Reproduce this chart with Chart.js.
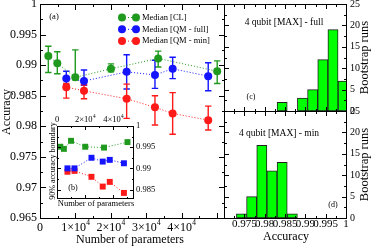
<!DOCTYPE html>
<html><head><meta charset="utf-8">
<script src="https://cdn.jsdelivr.net/npm/chart.js@4.4.1/dist/chart.umd.min.js"></script>
<style>
html,body{margin:0;padding:0;background:#fff;}
#wrap{position:relative;width:374px;height:248px;overflow:hidden;background:#fff;}
#wrap canvas{position:absolute;left:0;top:0;}
</style></head><body>
<div id="wrap">
<canvas id="cA" width="374" height="248"></canvas>
<canvas id="cB" width="374" height="248"></canvas>
<canvas id="cC" width="374" height="248"></canvas>
<canvas id="cD" width="374" height="248"></canvas>
</div>
<script>
// ---------- data ----------
const seriesNames = ['Median [CL]', 'Median [QM - full]', 'Median [QM - min]'];
const paramsCL = [2350, 4890, 9970, 20060, 33400, 50080];
const paramsQM = [7430, 12430, 24490, 32490, 37490, 47540];
const medCL    = [0.9915, 0.9903, 0.9880, 0.9894, 0.9911, 0.9890];
const loCL     = [0.9888, 0.9886, 0.9876, 0.9889, 0.9897, 0.9870];
const hiCL     = [0.9931, 0.9922, 0.9925, 0.9902, 0.9923, 0.9907];
const medFull  = [0.9878, 0.9874, 0.9889, 0.9884, 0.9894, 0.9882];
const loFull   = [0.9868, 0.9867, 0.9861, 0.9862, 0.9878, 0.9858];
const hiFull   = [0.9890, 0.9892, 0.9917, 0.9908, 0.9913, 0.9904];
const medMin   = [0.9864, 0.9858, 0.9845, 0.9831, 0.9821, 0.9810];
const loMin    = [0.9846, 0.9845, 0.9813, 0.9802, 0.9787, 0.9794];
const hiMin    = [0.9870, 0.9868, 0.9869, 0.9850, 0.9855, 0.9833];
// inset (b): 90% accuracy boundary
const b90CL    = [0.9951, 0.9946, 0.9965, 0.9951, 0.9949, 0.9962];
const b90Full  = [0.9900, 0.9900, 0.9925, 0.9916, 0.9920, 0.9912];
const b90Min   = [0.9892, 0.9894, 0.9880, 0.9857, 0.9868, 0.9842];
// histograms (c), (d)
const binCenters = [0.9743, 0.9768, 0.9793, 0.9818, 0.9843, 0.9868, 0.9893, 0.9918, 0.9943, 0.9968, 0.9993];
const runsFull   = [0, 0, 0, 0, 2, 0, 3, 5, 12, 19, 7];
const runsMin    = [1, 5, 17, 11, 13, 1, 0, 0, 0, 0, 0];
// ticks
const yTicksA   = [0.965, 0.97, 0.975, 0.98, 0.985, 0.99, 0.995, 1];
const yLabelsA  = ['0.965', '0.97', '0.975', '0.98', '0.985', '0.99', '0.995', '1'];
const xTicksA   = [0, 10000, 20000, 30000, 40000, 50000];
const xLabelsA  = ['0', '1×10^4', '2×10^4', '3×10^4', '4×10^4', ''];
const xTicksB   = [0, 20000, 40000];
const xLabelsB  = ['0', '2×10^4', '4×10^4'];
const yTicksB   = [0.985, 0.99, 0.995, 1];
const yLabelsB  = ['0.985', '0.99', '0.995', '1'];
const xTicksH   = [0.97, 0.975, 0.98, 0.985, 0.99, 0.995, 1];
const xLabelsH  = ['', '0.975', '0.98', '0.985', '0.99', '0.995', '1'];
const yTicksH   = [0, 5, 10, 15, 20, 25];
const yLabelsH  = ['0', '5', '10', '15', '20', '25'];

const C_CL = '#1f9a1f', C_FULL = '#1414ff', C_MIN = '#ff1a1a';
const SERIF = '"Liberation Serif","Times New Roman","DejaVu Serif",serif';
function font(px){ return px + 'px ' + SERIF; }
function txt(ctx, s, x, y, px, align, rot){
  ctx.save(); ctx.font = font(px); ctx.fillStyle = '#000';
  ctx.textAlign = align || 'center'; ctx.textBaseline = 'middle';
  ctx.translate(x, y); if (rot) ctx.rotate(rot); ctx.fillText(s, 0, 0); ctx.restore();
}
function supTxt(ctx, s, x, y, px, align){
  const parts = s.split('^'); const b = parts[0], e = parts[1] || '';
  ctx.save(); ctx.fillStyle = '#000'; ctx.textBaseline = 'middle'; ctx.textAlign = 'left';
  ctx.font = font(px); const wb = ctx.measureText(b).width;
  ctx.font = font(px * 0.62); const we = e ? ctx.measureText(e).width : 0;
  let x0 = x;
  if (align === 'center') x0 = x - (wb + we) / 2;
  ctx.font = font(px); ctx.fillText(b, x0, y);
  if (e) { ctx.font = font(px * 0.62); ctx.fillText(e, x0 + wb + 0.3, y - px * 0.38); }
  ctx.restore();
}
function frame(ctx, a){
  ctx.save(); ctx.strokeStyle = '#000'; ctx.lineWidth = 1;
  ctx.strokeRect(a.left + 0.5, a.top + 0.5, a.right - a.left, a.bottom - a.top); ctx.restore();
}
function rng(a, b, s){ const r = []; for (let v = a; v <= b + s * 1e-6; v += s) r.push(+v.toFixed(8)); return r; }
function yTicksDraw(ctx, sc, a, vals, len){
  ctx.save(); ctx.strokeStyle = '#000'; ctx.lineWidth = 1; ctx.beginPath();
  vals.forEach(v => { const p = Math.round(sc.getPixelForValue(v)) + 0.5;
    if (p < a.top - 1 || p > a.bottom + 1) return;
    ctx.moveTo(a.left, p); ctx.lineTo(a.left + len, p);
    ctx.moveTo(a.right + 1, p); ctx.lineTo(a.right + 1 - len, p); });
  ctx.stroke(); ctx.restore();
}
function xTicksDraw(ctx, sc, a, vals, len){
  ctx.save(); ctx.strokeStyle = '#000'; ctx.lineWidth = 1; ctx.beginPath();
  vals.forEach(v => { const p = Math.round(sc.getPixelForValue(v)) + 0.5;
    if (p < a.left - 1 || p > a.right + 1) return;
    ctx.moveTo(p, a.bottom + 1); ctx.lineTo(p, a.bottom + 1 - len);
    ctx.moveTo(p, a.top); ctx.lineTo(p, a.top + len); });
  ctx.stroke(); ctx.restore();
}
function errBars(ctx, sx, sy, xs, lo, hi, col){
  ctx.save(); ctx.strokeStyle = col; ctx.lineWidth = 1.4; ctx.beginPath();
  xs.forEach((x, i) => { const px = sx.getPixelForValue(x);
    const p1 = sy.getPixelForValue(lo[i]), p2 = sy.getPixelForValue(hi[i]);
    ctx.moveTo(px, p1); ctx.lineTo(px, p2);
    ctx.moveTo(px - 3.2, p1); ctx.lineTo(px + 3.2, p1);
    ctx.moveTo(px - 3.2, p2); ctx.lineTo(px + 3.2, p2); });
  ctx.stroke(); ctx.restore();
}
const baseOpts = { responsive: false, animation: false, devicePixelRatio: 1, events: [],
  plugins: { legend: { display: false }, tooltip: { enabled: false } } };
function pts(xs, ys){ return xs.map((x, i) => ({ x: x, y: ys[i] })); }
function lineDs(xs, ys, col, style, r){
  return { data: pts(xs, ys), showLine: true, borderColor: col, backgroundColor: col,
    borderWidth: 1, borderDash: [1, 2], pointStyle: style, pointRadius: r,
    pointBorderWidth: 0, pointBackgroundColor: col };
}

// ---------- (a) main ----------
new Chart(document.getElementById('cA'), {
  type: 'scatter',
  data: { datasets: [
    lineDs(paramsCL, medCL, C_CL, 'circle', 4),
    lineDs(paramsQM, medFull, C_FULL, 'circle', 4),
    lineDs(paramsQM, medMin, C_MIN, 'circle', 4)
  ]},
  options: Object.assign({}, baseOpts, {
    layout: { padding: { left: 40, top: 4, right: 150, bottom: 30 } },
    scales: { x: { type: 'linear', display: false, min: 0, max: 52000 },
              y: { type: 'linear', display: false, min: 0.965, max: 1 } }
  }),
  plugins: [{ id: 'decoA',
    beforeDatasetsDraw(ch){ const c = ch.ctx, sx = ch.scales.x, sy = ch.scales.y;
      errBars(c, sx, sy, paramsCL, loCL, hiCL, C_CL);
      errBars(c, sx, sy, paramsQM, loFull, hiFull, C_FULL);
      errBars(c, sx, sy, paramsQM, loMin, hiMin, C_MIN); },
    afterDraw(ch){ const c = ch.ctx, a = ch.chartArea, sx = ch.scales.x, sy = ch.scales.y;
      frame(c, a);
      yTicksDraw(c, sy, a, yTicksA, 6); yTicksDraw(c, sy, a, rng(0.9675, 0.9975, 0.005), 3);
      xTicksDraw(c, sx, a, xTicksA, 6); xTicksDraw(c, sx, a, rng(5000, 45000, 10000), 3);
      yTicksA.forEach((v, i) => txt(c, yLabelsA[i], 37, sy.getPixelForValue(v), 12, 'right'));
      xTicksA.forEach((v, i) => { if (xLabelsA[i]) supTxt(c, xLabelsA[i], sx.getPixelForValue(v), 228, 12, 'center'); });
      txt(c, 'Accuracy', 7, 112, 12, 'center', -Math.PI / 2);
      txt(c, 'Number of parameters', 130, 240, 12, 'center');
      txt(c, '(a)', 54, 17, 8.5, 'center');
      // legend
      const cols = [C_CL, C_FULL, C_MIN];
      seriesNames.forEach((n, i) => { const y = 17.5 + i * 11.8;
        c.save(); c.strokeStyle = cols[i]; c.lineWidth = 1; c.setLineDash([1, 2]);
        c.beginPath(); c.moveTo(122, y); c.lineTo(136, y); c.stroke(); c.setLineDash([]);
        c.fillStyle = cols[i];
        [122, 136].forEach(px => { c.beginPath(); c.arc(px, y, 4, 0, Math.PI * 2); c.fill(); });
        c.restore();
        txt(c, n, 142, y, 8.5, 'left'); });
    } }]
});

// ---------- (b) inset ----------
new Chart(document.getElementById('cB'), {
  type: 'scatter',
  data: { datasets: [
    lineDs(paramsCL, b90CL, C_CL, 'rect', 4.2),
    lineDs(paramsQM, b90Full, C_FULL, 'rect', 4.2),
    lineDs(paramsQM, b90Min, C_MIN, 'rect', 4.2)
  ]},
  options: Object.assign({}, baseOpts, {
    layout: { padding: { left: 57, top: 126, right: 374 - 133, bottom: 248 - 198 } },
    scales: { x: { type: 'linear', display: false, min: 0, max: 54000 },
              y: { type: 'linear', display: false, min: 0.983, max: 1 } }
  }),
  plugins: [{ id: 'decoB',
    beforeDatasetsDraw(ch){ const c = ch.ctx, a = ch.chartArea;
      c.save(); c.fillStyle = '#fff'; c.fillRect(a.left, a.top, a.right - a.left, a.bottom - a.top); c.restore(); },
    afterDraw(ch){ const c = ch.ctx, a = ch.chartArea, sx = ch.scales.x, sy = ch.scales.y;
      frame(c, a);
      yTicksDraw(c, sy, a, yTicksB, 4); yTicksDraw(c, sy, a, rng(0.9875, 0.9975, 0.005), 2);
      xTicksDraw(c, sx, a, xTicksB, 4); xTicksDraw(c, sx, a, rng(10000, 50000, 20000), 2);
      yTicksB.forEach((v, i) => txt(c, yLabelsB[i], 136, sy.getPixelForValue(v), 8.5, 'left'));
      xTicksB.forEach((v, i) => supTxt(c, xLabelsB[i], sx.getPixelForValue(v), 120, 8.5, 'center'));
      txt(c, '90% accuracy boundary', 52.5, 161, 8, 'center', -Math.PI / 2);
      txt(c, 'Number of parameters', 96, 204, 8.5, 'center');
      txt(c, '(b)', 73, 188, 8, 'center');
    } }]
});

// ---------- (c), (d) histograms ----------
function histChart(id, counts, top, bottom, showX, title, titleX, titleY, tag, tagX, tagY){
  const data = [];
  binCenters.forEach((x, i) => { if (counts[i] > 0) data.push({ x: x, y: counts[i] }); });
  new Chart(document.getElementById(id), {
    type: 'bar',
    data: { datasets: [{ data: data, backgroundColor: '#00ff00', borderColor: '#222',
      borderWidth: 1, borderSkipped: false, barPercentage: 1, categoryPercentage: 1 }] },
    options: Object.assign({}, baseOpts, {
      layout: { padding: { left: 224, top: top, right: 374 - 346, bottom: 248 - bottom } },
      scales: { x: { type: 'linear', display: false, offset: false, min: 0.97, max: 1 },
                y: { type: 'linear', display: false, min: 0, max: 25 } }
    }),
    plugins: [{ id: 'deco' + id,
      afterDraw(ch){ const c = ch.ctx, a = ch.chartArea, sx = ch.scales.x, sy = ch.scales.y;
        frame(c, a);
        yTicksDraw(c, sy, a, yTicksH, 5); yTicksDraw(c, sy, a, rng(2.5, 22.5, 5), 3);
        xTicksDraw(c, sx, a, xTicksH, 5); xTicksDraw(c, sx, a, rng(0.9725, 0.9975, 0.005), 3);
        yTicksH.forEach((v, i) => txt(c, yLabelsH[i], 350, sy.getPixelForValue(v), 10, 'left'));
        if (showX) {
          xTicksH.forEach((v, i) => { if (xLabelsH[i]) txt(c, xLabelsH[i], sx.getPixelForValue(v), 224, 11, 'center'); });
          txt(c, 'Accuracy', 286, 237, 12, 'center');
        }
        txt(c, 'Bootstrap runs', 365, (a.top + a.bottom) / 2, 12.5, 'center', -Math.PI / 2);
        txt(c, title, titleX, titleY, 9.5, 'center');
        txt(c, tag, tagX, tagY, 8, 'center');
      } }]
  });
}
histChart('cC', runsFull, 4, 111, false, '4 qubit [MAX] - full', 284, 22, '(c)', 251, 97);
histChart('cD', runsMin, 111, 218, true, '4 qubit [MAX] - min', 279, 133, '(d)', 333, 205);
</script>
</body></html>
